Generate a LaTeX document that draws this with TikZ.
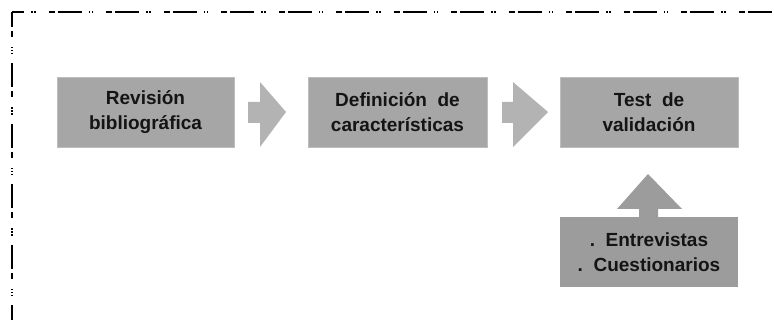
\documentclass[tikz,border=0pt]{standalone}
\usepackage{fontspec}
\setmainfont{Liberation Sans}
\definecolor{boxgray}{HTML}{A6A6A6}
\definecolor{boxedge}{HTML}{BDBDBD}
\definecolor{arrgray}{HTML}{B3B3B3}
\definecolor{darkgray}{HTML}{9C9C9C}
\definecolor{txt}{HTML}{141414}
\begin{document}
\begin{tikzpicture}[x=1pt,y=-1pt,
  stepbox/.style={fill=boxgray, draw=boxedge, line width=0.8pt, inner sep=0pt,
    minimum height=70pt, align=center, text=txt,
    font=\fontsize{19}{25.5}\selectfont\bfseries},
  srcbox/.style={stepbox, fill=darkgray, draw=none},
  framehor/.style={line width=2pt, dash pattern=on 24pt off 7pt on 1.5pt off 1.5pt on 1.5pt off 13pt on 6pt off 3pt, dash phase=12pt},
  framever/.style={line width=2pt, dash pattern=on 24pt off 4pt on 6pt off 10pt on 1.5pt off 1.5pt on 1.5pt off 1.5pt on 1.5pt off 9pt, dash phase=9pt}]
\useasboundingbox (0,0) rectangle (774,320);
% frame
\coordinate (corner) at (12,12);
\coordinate (fr) at (790,12);
\coordinate (fb) at (12,330);
\draw[framehor] (corner) -- (fr);
\draw[framever] (corner) -- (fb);
% boxes
\node[stepbox, minimum width=177pt] (b1) at (145.5,112) {Revisión\\bibliográfica};
\node[stepbox, minimum width=179pt] (b2) at (397.5,112) {Definición~~de\\características};
\node[stepbox, minimum width=178pt] (b3) at (649,112) {Test~~de\\validación};
\node[srcbox, minimum width=178pt] (b4) at (649,252) {.~~Entrevistas\\.~~Cuestionarios};
% block arrows
\fill[arrgray] (248,102) -- (260,102) -- (260,82) -- (286,112) -- (260,147) -- (260,123) -- (248,123) -- cycle;
\fill[arrgray] (502,102) -- (513,102) -- (513,82) -- (548,112) -- (513,147) -- (513,123) -- (502,123) -- cycle;
\fill[darkgray] (639,217) -- (639,209) -- (617,209) -- (648,174) -- (682,209) -- (658,209) -- (658,217) -- cycle;
\end{tikzpicture}
\end{document}
